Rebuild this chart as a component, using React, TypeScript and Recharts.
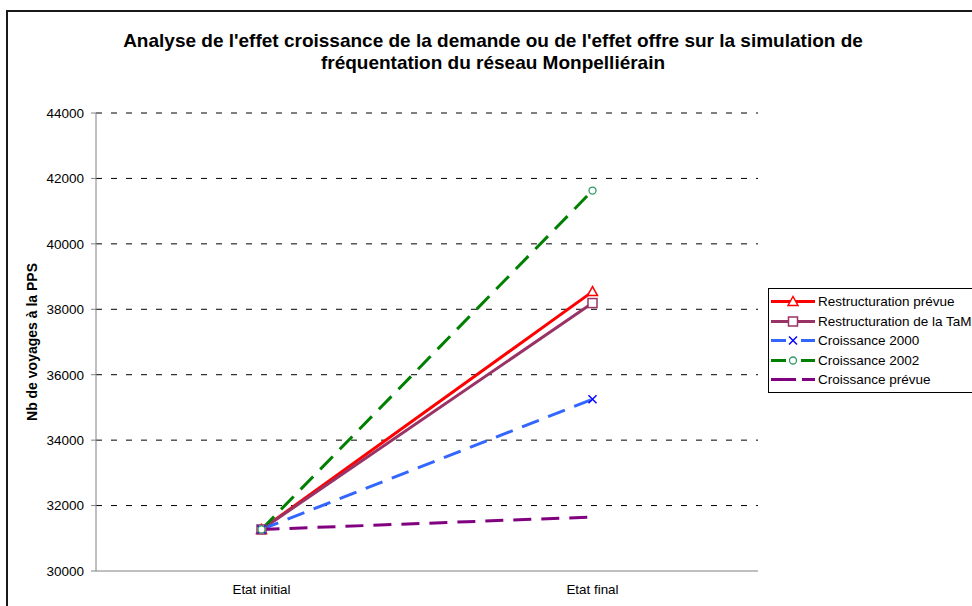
import React from 'react';
import { LineChart, Line, XAxis, YAxis, CartesianGrid, Legend } from 'recharts';

const FONT = '"Liberation Sans", Arial, Helvetica, sans-serif';

// ---- data ----
const categories = ['Etat initial', 'Etat final'];
const restructurationPrevue = [31270, 38540];
const restructurationTaM = [31270, 38190];
const croissance2000 = [31270, 35250];
const croissance2002 = [31270, 41630];
const croissancePrevue = [31270, 31650];
const yTicks = [30000, 32000, 34000, 36000, 38000, 40000, 42000, 44000];
const titleLines = [
  "Analyse de l'effet croissance de la demande ou de l'effet offre sur la simulation de",
  'fréquentation du réseau Monpelliérain',
];
const yAxisTitle = 'Nb de voyages à la PPS';

const data = categories.map((c, i) => ({
  pos: i + 0.5,
  label: c,
  rp: restructurationPrevue[i],
  rt: restructurationTaM[i],
  c2000: croissance2000[i],
  c2002: croissance2002[i],
  cp: croissancePrevue[i],
}));

type Kind = 'triangle' | 'square' | 'cross' | 'circle' | 'none';

const series: {
  key: string;
  name: string;
  color: string;
  dash?: string;
  marker: Kind;
  markerColor: string;
  legendDash?: string;
}[] = [
  { key: 'rp', name: 'Restructuration prévue', color: '#FF0000', marker: 'triangle', markerColor: '#FF0000' },
  { key: 'rt', name: 'Restructuration de la TaM', color: '#993366', marker: 'square', markerColor: '#993366' },
  { key: 'c2000', name: 'Croissance 2000', color: '#3366FF', dash: '18 10', marker: 'cross', markerColor: '#0000FF', legendDash: '15 15' },
  { key: 'c2002', name: 'Croissance 2002', color: '#008000', dash: '18 10', marker: 'circle', markerColor: '#339966', legendDash: '15 15' },
  { key: 'cp', name: 'Croissance prévue', color: '#800080', dash: '18 10', marker: 'none', markerColor: '#800080', legendDash: '25 6' },
];

function Marker({ kind, cx, cy, color }: { kind: Kind; cx: number; cy: number; color: string }) {
  if (kind === 'triangle') {
    return (
      <polygon
        points={`${cx},${cy - 5} ${cx - 5},${cy + 4} ${cx + 5},${cy + 4}`}
        fill="#fff"
        stroke={color}
        strokeWidth={1.5}
      />
    );
  }
  if (kind === 'square') {
    return <rect x={cx - 4.5} y={cy - 4.5} width={9} height={9} fill="#fff" stroke={color} strokeWidth={1.5} />;
  }
  if (kind === 'cross') {
    return (
      <g stroke={color} strokeWidth={1.5}>
        <line x1={cx - 4} y1={cy - 4} x2={cx + 4} y2={cy + 4} />
        <line x1={cx - 4} y1={cy + 4} x2={cx + 4} y2={cy - 4} />
      </g>
    );
  }
  if (kind === 'circle') {
    return <circle cx={cx} cy={cy} r={3.5} fill="#fff" stroke={color} strokeWidth={1.3} />;
  }
  return <g />;
}

const makeDot = (kind: Kind, color: string, key: string) => (props: any) => {
  const { cx, cy, index } = props;
  if (cx == null || cy == null || kind === 'none') return <g key={`${key}-${index}`} />;
  return (
    <g key={`${key}-${index}`}>
      <Marker kind={kind} cx={cx} cy={cy} color={color} />
    </g>
  );
};

const LegendBox = () => (
  <div
    style={{
      border: '1px solid #000',
      background: '#fff',
      boxSizing: 'border-box',
      height: 105,
      width: 240,
      paddingTop: 3,
      fontFamily: FONT,
      fontSize: 13.5,
      color: '#000',
    }}
  >
    {series.map((s) => (
      <div key={s.key} style={{ height: 19.5, display: 'flex', alignItems: 'center', whiteSpace: 'nowrap' }}>
        <svg width={48} height={19} style={{ display: 'block', flex: 'none' }}>
          <line x1={2} y1={9.5} x2={46} y2={9.5} stroke={s.color} strokeWidth={3} strokeDasharray={s.legendDash} />
          <Marker kind={s.marker} cx={24} cy={9.5} color={s.markerColor} />
        </svg>
        <span style={{ marginLeft: 1 }}>{s.name}</span>
      </div>
    ))}
  </div>
);

export default function App() {
  return (
    <div
      style={{
        position: 'absolute',
        left: 0,
        top: 0,
        width: 972,
        height: 606,
        overflow: 'hidden',
        background: '#fff',
        fontFamily: FONT,
      }}
    >
      <div
        style={{
          position: 'absolute',
          left: 6,
          top: 10,
          width: 1100,
          height: 1100,
          border: '2px solid #1a1a1a',
        }}
      />
      <div
        style={{
          position: 'absolute',
          left: 93,
          top: 30,
          width: 800,
          textAlign: 'center',
          fontWeight: 'bold',
          fontSize: 19,
          lineHeight: '22px',
          color: '#000',
          zIndex: 2,
        }}
      >
        {titleLines.map((t) => (
          <div key={t} style={{ whiteSpace: 'nowrap' }}>
            {t}
          </div>
        ))}
      </div>
      <div style={{ position: 'absolute', left: 0, top: 0 }}>
        <LineChart
          width={972}
          height={606}
          data={data}
          margin={{ top: 113, right: 214, bottom: 0, left: 6 }}
        >
          <CartesianGrid
            vertical={false}
            stroke="#000"
            strokeDasharray="6 9"
            horizontalValues={yTicks.filter((v) => v > yTicks[0])}
          />
          <XAxis
            dataKey="pos"
            type="number"
            domain={[0, categories.length]}
            ticks={categories.map((_, i) => i).concat([categories.length])}
            tick={false}
            tickLine={{ stroke: '#808080' }}
            tickSize={5}
            axisLine={{ stroke: '#808080' }}
            height={5}
          />
          <XAxis
            xAxisId="lbl"
            dataKey="pos"
            type="number"
            domain={[0, categories.length]}
            ticks={categories.map((_, i) => i + 0.5)}
            tickFormatter={(v: number) => categories[Math.floor(v)]}
            axisLine={false}
            tickLine={false}
            tick={{ fill: '#000', fontSize: 13.4, fontFamily: FONT }}
            height={30}
          />
          <YAxis
            type="number"
            domain={[yTicks[0], yTicks[yTicks.length - 1]]}
            ticks={yTicks}
            width={90}
            tickSize={5}
            tickMargin={7}
            tickLine={{ stroke: '#808080' }}
            axisLine={{ stroke: '#808080' }}
            tick={{ fill: '#000', fontSize: 13.5, fontFamily: FONT }}
            label={(props: any) => {
              const vb = props.viewBox || { x: 6, y: 113, width: 90, height: 458 };
              const x = vb.x + 26;
              const y = vb.y + vb.height / 2;
              return (
                <text
                  x={x}
                  y={y}
                  transform={`rotate(-90, ${x}, ${y})`}
                  textAnchor="middle"
                  dominantBaseline="central"
                  fontFamily={FONT}
                  fontWeight="bold"
                  fontSize={14}
                  fill="#000"
                >
                  {yAxisTitle}
                </text>
              );
            }}
          />
          <Legend
            layout="horizontal"
            align="center"
            verticalAlign="middle"
            wrapperStyle={{ left: 768, top: 288, width: 240, height: 105 }}
            content={() => <LegendBox />}
          />
          {series.map((s) => (
            <Line
              key={s.key}
              type="linear"
              dataKey={s.key}
              name={s.name}
              stroke={s.color}
              strokeWidth={3}
              strokeDasharray={s.dash}
              dot={makeDot(s.marker, s.markerColor, s.key)}
              activeDot={false}
              isAnimationActive={false}
            />
          ))}
        </LineChart>
      </div>
    </div>
  );
}
